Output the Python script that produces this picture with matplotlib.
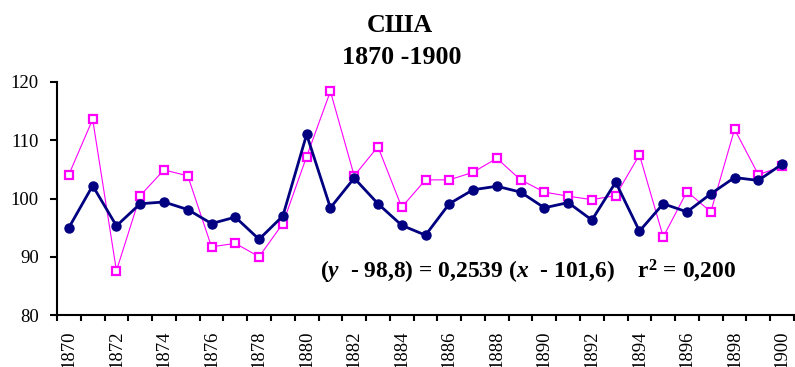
import numpy as np
import matplotlib.pyplot as plt

plt.rcParams['font.family'] = ['Liberation Serif', 'DejaVu Serif']
plt.rcParams['mathtext.fontset'] = 'custom'
plt.rcParams['mathtext.rm'] = 'Liberation Serif:bold'
plt.rcParams['mathtext.it'] = 'Liberation Serif:bold:italic'
plt.rcParams['mathtext.bf'] = 'Liberation Serif:bold'

# данные: годы 1870-1900
years = list(range(1870, 1901))
navy_vals = [95.0, 102.2, 95.3, 99.1, 99.4, 98.1, 95.7, 96.8, 93.0, 97.0,
             111.0, 98.4, 103.5, 99.1, 95.4, 93.7, 99.1, 101.5, 102.1, 101.1,
             98.4, 99.3, 96.3, 102.8, 94.4, 99.1, 97.7, 100.8, 103.6, 103.1,
             105.9]
pink_vals = [104.1, 113.6, 87.6, 100.5, 104.9, 103.9, 91.7, 92.3, 90.0, 95.7,
             107.2, 118.4, 103.9, 108.9, 98.5, 103.2, 103.2, 104.5, 106.9, 103.2,
             101.1, 100.4, 99.8, 100.5, 107.5, 93.4, 101.2, 97.7, 111.9, 104.1,
             105.5]
y_ticks = [80, 90, 100, 110, 120]

fig = plt.figure(figsize=(7.95, 3.67), dpi=100)
ax = fig.add_axes([57 / 795, 1 - 315 / 367, 737 / 795, 233 / 367])

x = np.arange(len(years))
ax.plot(x, pink_vals, color='#FF00FF', linewidth=0.8, marker='s', markersize=6,
        markerfacecolor='white', markeredgecolor='#FF00FF', markeredgewidth=1.6, zorder=2)
ax.plot(x, navy_vals, color='#000080', linewidth=2, marker='o', markersize=6.5,
        markerfacecolor='#000080', markeredgecolor='#000080', zorder=3)

ax.set_xlim(-0.5, len(years) - 0.5)
ax.set_ylim(80, 120)
ax.set_yticks(y_ticks)
ax.set_yticklabels([str(v) for v in y_ticks], fontsize=13.5)

# подписи только для чётных лет, деления между категориями
ax.set_xticks(x[::2])
ax.set_xticklabels([str(y) for y in years[::2]], rotation=90, fontsize=13.5)
ax.tick_params(axis='x', length=0, pad=11)
ax.set_xticks(np.arange(-0.5, len(years)), minor=True)
ax.tick_params(axis='x', which='minor', length=4, width=1.5, direction='out')
ax.tick_params(axis='y', length=5, width=1.5, direction='out', pad=8)

for side in ['top', 'right']:
    ax.spines[side].set_visible(False)
for side in ['left', 'bottom']:
    ax.spines[side].set_linewidth(1.5)

ax.text(10.55, 87.4, '($y$  - 98,8) = 0,2539 ($x$  - 101,6)    r$^2$ = 0,200',
        fontsize=16.9, fontweight='bold', ha='left', va='center')

fig.text(0.503, 1 - 25 / 367, 'США', fontsize=18.7, fontweight='bold', ha='center', va='center')
fig.text(0.505, 1 - 58 / 367, '1870 -1900', fontsize=18.7, fontweight='bold', ha='center', va='center')

fig.savefig('out.png', dpi=100)
